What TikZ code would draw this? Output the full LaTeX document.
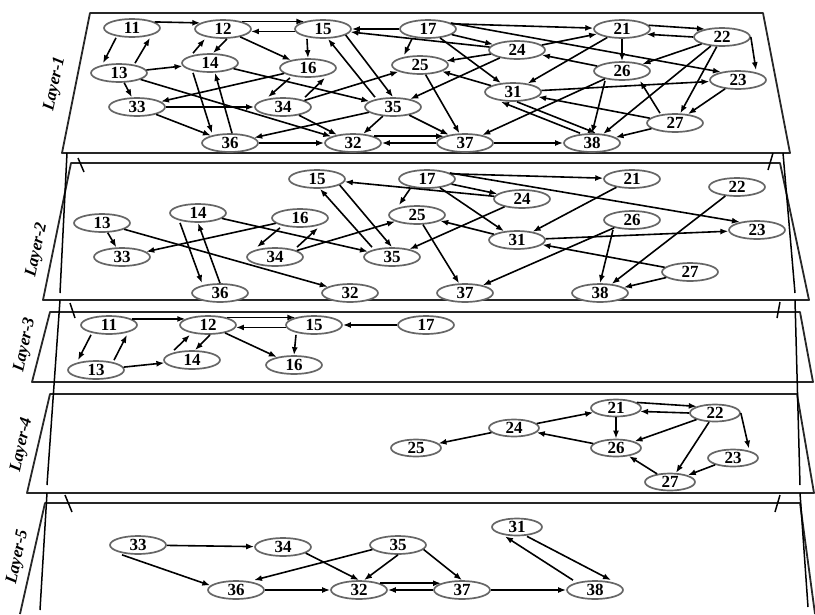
\documentclass[tikz,border=0pt]{standalone}
\usepackage{fontspec}
\setmainfont{Liberation Serif}
\usetikzlibrary{shapes.geometric,arrows.meta}

\begin{document}
\begin{tikzpicture}[x=1pt,y=-1pt,>={Latex[length=8pt,width=6pt]},
  vtx/.style={draw=black!60,line width=1.7pt,ellipse,fill=white,minimum width=56pt,minimum height=18pt,inner sep=0pt,font=\fontsize{17}{17}\selectfont\bfseries},
  vtxs/.style={vtx,minimum width=50pt,minimum height=17pt},
  conn/.style={->,line width=1.6pt},
  plate/.style={draw=black!85,line width=1.8pt,fill=white,line join=round},
  pole/.style={line width=1.5pt},
  lbl/.style={rotate=78,inner sep=0pt,font=\fontsize{17}{17}\selectfont\bfseries\itshape}]
\useasboundingbox (0,0) rectangle (815,614);
% the five planes
\draw[plate] (90,13) -- (763,13) -- (790,153) -- (62,153) -- cycle;
\draw[plate] (71,163) -- (780,163) -- (809,300) -- (43,300) -- cycle;
\draw[plate] (50,312) -- (800,312) -- (813,382) -- (32,382) -- cycle;
\draw[plate] (50,394) -- (797,394) -- (814,493) -- (27,493) -- cycle;
\draw[plate] (20,614) -- (45,503) -- (800,503) -- (815,614);
% posts and ticks between planes
\draw[pole] (67,153) -- (60,293) (60,300) -- (47,485) (47,493) -- (40,610);
\draw[pole] (783,153) -- (795,293) (795,300) -- (800,485) (800,493) -- (808,607);
\draw[pole] (78,158) -- (84,172) (70,303) -- (75,318) (65,495) -- (72,512);
\draw[pole] (773,153) -- (768,170) (780,302) -- (777,318) (780,495) -- (775,512);
% labels
\node[lbl] (lab1) at (55,84) {Layer-1};
\node[lbl] (lab2) at (37,250) {Layer-2};
\node[lbl] (lab3) at (25,345) {Layer-3};
\node[lbl] (lab4) at (22,445) {Layer-4};
\node[lbl] (lab5) at (18,557) {Layer-5};

% Layer-1
\node[vtx] (a11) at (132,28) {11};
\node[vtx] (a12) at (223,29) {12};
\node[vtx] (a15) at (323,29) {15};
\node[vtx] (a17) at (428,29) {17};
\node[vtx] (a21) at (622,29) {21};
\node[vtx] (a22) at (722,37) {22};
\node[vtx] (a24) at (517,50) {24};
\node[vtx] (a13) at (119,73) {13};
\node[vtx] (a14) at (210,63) {14};
\node[vtx] (a16) at (308,68) {16};
\node[vtx] (a25) at (420,65) {25};
\node[vtx] (a26) at (622,71) {26};
\node[vtx] (a23) at (738,80) {23};
\node[vtx] (a31) at (513,92) {31};
\node[vtx] (a33) at (137,107) {33};
\node[vtx] (a34) at (283,107) {34};
\node[vtx] (a35) at (393,107) {35};
\node[vtx] (a27) at (675,123) {27};
\node[vtx] (a36) at (230,143) {36};
\node[vtx] (a32) at (353,143) {32};
\node[vtx] (a37) at (465,143) {37};
\node[vtx] (a38) at (592,143) {38};
\draw[conn] (a11.15) -- (a12.165);
\draw[conn] ([xshift=-16]a11.south) -- ([xshift=-16]a13.north);
\draw[conn] ([xshift=16]a13.north) -- ([xshift=18]a11.south);
\draw[conn] (a13) -- (a14);
\draw[conn] (a13) -- (a33);
\draw[conn] (a13) -- (a32);
\draw[conn] ([xshift=-17]a14.north) -- ([xshift=-18]a12.south);
\draw[conn] ([xshift=4]a12.south) -- ([xshift=3]a14.north);
\draw[conn] (a12.22) -- (a15.158);
\draw[conn] (a15.185) -- (a12.-5);
\draw[conn] (a12) -- (a16);
\draw[conn] (a17) -- (a15);
\draw[conn] ([xshift=-16]a15.south) -- (a16.north);
\draw[conn] (a24) -- (a15);
\draw[conn] (a15.-15) -- (a35.north);
\draw[conn] ([xshift=-18]a35.north) -- ([xshift=5]a15.south);
\draw[conn] ([xshift=-17]a14.south) -- ([xshift=-18]a36.north);
\draw[conn] ([xshift=2]a36.north) -- ([xshift=5]a14.south);
\draw[conn] (a14) -- (a35);
\draw[conn] (a16) -- (a33);
\draw[conn] ([xshift=-18]a16.south) -- ([xshift=-15]a34.north);
\draw[conn] ([xshift=22]a34.north) -- ([xshift=17]a16.south);
\draw[conn] (a34) -- (a25);
\draw[conn] (a33) -- (a34);
\draw[conn] (a33) -- (a36);
\draw[conn] (a34) -- (a32);
\draw[conn] (a35) -- (a36);
\draw[conn] (a35) -- (a32);
\draw[conn] (a35) -- (a37);
\draw[conn] (a36) -- (a32);
\draw[conn] (a32.18) -- (a37.162);
\draw[conn] (a37) -- (a32);
\draw[conn] (a37) -- (a38);
\draw[conn] ([xshift=-16]a17.south) -- ([xshift=-16]a25.north);
\draw[conn] (a17) -- (a24);
\draw[conn] (a17.12) -- (a21);
\draw[conn] (a17) -- (a31);
\draw[conn] (a17.15) -- (a23.155);
\draw[conn] (a24) -- (a21);
\draw[conn] (a24) -- (a25);
\draw[conn] (a24) -- (a35);
\draw[conn] (a26) -- (a24);
\draw[conn] (a25) -- (a37);
\draw[conn] (a31) -- (a25);
\draw[conn] (a31) -- (a23);
\draw[conn] (a21) -- (a31);
\draw[conn] (a21.8) -- (a22.155);
\draw[conn] (a22.180) -- (a21.-12);
\draw[conn] (a21) -- (a26);
\draw[conn] (a22) -- (a26);
\draw[conn] (a22) -- (a38);
\draw[conn] (a22) -- (a27);
\draw[conn] (a22.east) -- ([xshift=18]a23.north);
\draw[conn] (a23) -- (a27);
\draw[conn] ([xshift=-15]a27.north) -- ([xshift=18]a26.south);
\draw[conn] (a26) -- (a37);
\draw[conn] ([xshift=-17]a26.south) -- (a38.north);
\draw[conn] (a27) -- (a38);
\draw[conn] (a27) -- (a31);
\draw[conn] ([xshift=4]a31.south) -- ([xshift=4]a38.north);
\draw[conn] ([xshift=-12]a38.north) -- ([xshift=-12]a31.south);

% Layer-2
\node[vtx] (b15) at (317,179) {15};
\node[vtx] (b17) at (427,179) {17};
\node[vtx] (b21) at (632,179) {21};
\node[vtx] (b22) at (737,187) {22};
\node[vtx] (b24) at (522,199) {24};
\node[vtx] (b13) at (102,223) {13};
\node[vtx] (b14) at (198,213) {14};
\node[vtx] (b16) at (300,218) {16};
\node[vtx] (b25) at (417,215) {25};
\node[vtx] (b26) at (632,220) {26};
\node[vtx] (b23) at (757,230) {23};
\node[vtx] (b31) at (517,240) {31};
\node[vtx] (b33) at (122,257) {33};
\node[vtx] (b34) at (275,257) {34};
\node[vtx] (b35) at (392,257) {35};
\node[vtx] (b27) at (690,272) {27};
\node[vtx] (b36) at (220,293) {36};
\node[vtx] (b32) at (350,293) {32};
\node[vtx] (b37) at (465,293) {37};
\node[vtx] (b38) at (600,293) {38};
\draw[conn] (b13) -- (b33);
\draw[conn] (b13) -- (b32);
\draw[conn] ([xshift=-18]b14.south) -- ([xshift=-18]b36.north);
\draw[conn] (b36.north) -- (b14.south);
\draw[conn] (b14) -- (b35);
\draw[conn] (b16) -- (b33);
\draw[conn] ([xshift=-20]b16.south) -- ([xshift=-18]b34.north);
\draw[conn] ([xshift=22]b34.north) -- ([xshift=18]b16.south);
\draw[conn] (b34) -- (b25);
\draw[conn] (b15.-15) -- (b35.north);
\draw[conn] ([xshift=-20]b35.north) -- ([xshift=3]b15.south);
\draw[conn] (b24) -- (b15);
\draw[conn] ([xshift=-17]b17.south) -- ([xshift=-18]b25.north);
\draw[conn] (b17) -- (b24);
\draw[conn] (b17.12) -- (b21);
\draw[conn] (b17) -- (b31);
\draw[conn] (b17.15) -- (b23.155);
\draw[conn] (b24) -- (b35);
\draw[conn] (b25) -- (b37);
\draw[conn] (b31) -- (b25);
\draw[conn] (b31) -- (b23);
\draw[conn] (b21) -- (b31);
\draw[conn] (b26) -- (b37);
\draw[conn] ([xshift=-19]b26.south) -- (b38.north);
\draw[conn] (b22) -- (b38);
\draw[conn] (b27) -- (b38);
\draw[conn] (b27) -- (b31);

% Layer-3
\node[vtx] (c11) at (109,325) {11};
\node[vtx] (c12) at (208,325) {12};
\node[vtx] (c15) at (314,325) {15};
\node[vtx] (c17) at (426,325) {17};
\node[vtx] (c13) at (96,370) {13};
\node[vtx] (c14) at (192,360) {14};
\node[vtx] (c16) at (294,365) {16};
\draw[conn] (c11.15) -- (c12.165);
\draw[conn] ([xshift=-18]c11.south) -- ([xshift=-18]c13.north);
\draw[conn] ([xshift=18]c13.north) -- ([xshift=18]c11.south);
\draw[conn] (c13) -- (c14);
\draw[conn] ([xshift=-18]c14.north) -- ([xshift=-18]c12.south);
\draw[conn] ([xshift=2]c12.south) -- ([xshift=3]c14.north);
\draw[conn] (c12.22) -- (c15.158);
\draw[conn] (c15.185) -- (c12.-5);
\draw[conn] (c17) -- (c15);
\draw[conn] (c12) -- (c16);
\draw[conn] ([xshift=-18]c15.south) -- (c16.north);

% Layer-4
\node[vtxs] (d21) at (616,408) {21};
\node[vtxs] (d22) at (715,413) {22};
\node[vtxs] (d24) at (514,428) {24};
\node[vtxs] (d26) at (616,448) {26};
\node[vtxs] (d25) at (416,448) {25};
\node[vtxs] (d23) at (733,458) {23};
\node[vtxs] (d27) at (670,482) {27};
\draw[conn] (d21.15) -- (d22.160);
\draw[conn] (d22.180) -- (d21.-8);
\draw[conn] (d21) -- (d26);
\draw[conn] (d22) -- (d26);
\draw[conn] (d22) -- (d27);
\draw[conn] (d22.east) -- ([xshift=16]d23.north);
\draw[conn] (d23) -- (d27);
\draw[conn] (d27) -- (d26);
\draw[conn] (d26) -- (d24);
\draw[conn] (d24) -- (d21);
\draw[conn] (d24) -- (d25);

% Layer-5
\node[vtx] (e33) at (138,545) {33};
\node[vtx] (e34) at (283,547) {34};
\node[vtx] (e35) at (398,545) {35};
\node[vtxs] (e31) at (517,527) {31};
\node[vtx] (e36) at (236,590) {36};
\node[vtx] (e32) at (359,590) {32};
\node[vtx] (e37) at (462,590) {37};
\node[vtx] (e38) at (595,590) {38};
\draw[conn] (e33) -- (e34);
\draw[conn] ([xshift=-16]e33.south) -- (e36.170);
\draw[conn] (e34.-15) -- (e32.north);
\draw[conn] (e35.190) -- ([xshift=18]e36.north);
\draw[conn] (e35.south) -- ([xshift=5]e32.north);
\draw[conn] (e35.-10) -- (e37.north);
\draw[conn] (e36) -- (e32);
\draw[conn] (e32.18) -- (e37.162);
\draw[conn] (e37) -- (e32);
\draw[conn] (e37) -- (e38);
\draw[conn] ([xshift=10]e31.south) -- ([xshift=16]e38.north);
\draw[conn] ([xshift=-22]e38.north) -- ([xshift=-12]e31.south);
\end{tikzpicture}
\end{document}
